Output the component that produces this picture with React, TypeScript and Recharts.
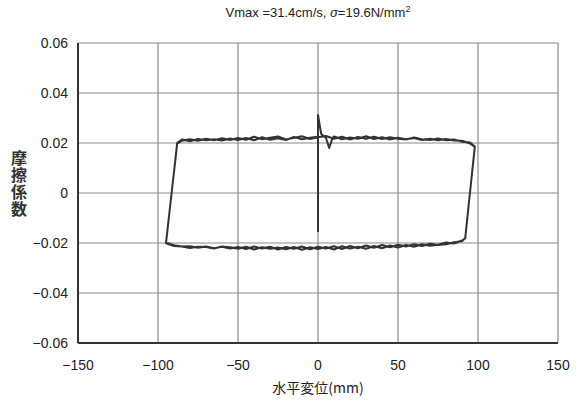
import { LineChart, Line, XAxis, YAxis, CartesianGrid } from "recharts";

// 水平変位 (mm) と 摩擦係数
const xTicks = [-150, -100, -50, 0, 50, 100, 150];
const yTicks = [-0.06, -0.04, -0.02, 0, 0.02, 0.04, 0.06];

const startX = [0, 0, 2, 5, 7, 9];
const startMu = [-0.0156, 0.0312, 0.0236, 0.022, 0.018, 0.0219];

const upperX = [
  -88, -85, -80, -75, -70, -65, -60, -55, -50, -45, -40, -35, -30, -25, -20, -15, -10, -5, 0, 5,
  10, 15, 20, 25, 30, 35, 40, 45, 50, 55, 60, 65, 70, 75, 80, 85, 90, 95, 98,
];
const upperMuA = [
  0.0201, 0.0214, 0.0207, 0.0216, 0.0211, 0.0215, 0.021, 0.0218, 0.0212, 0.022, 0.0211, 0.0223,
  0.0213, 0.0219, 0.0212, 0.0224, 0.0215, 0.0221, 0.0225, 0.0216, 0.0226, 0.0215, 0.0222, 0.0217,
  0.0227, 0.0216, 0.0223, 0.0214, 0.0221, 0.0215, 0.022, 0.0212, 0.0217, 0.0211, 0.0216, 0.021,
  0.0209, 0.0198, 0.0184,
];
const upperMuB = [
  0.0197, 0.0209, 0.0215, 0.0209, 0.0217, 0.0211, 0.0219, 0.0212, 0.022, 0.0213, 0.0225, 0.0215,
  0.0221, 0.0226, 0.0214, 0.0221, 0.0227, 0.0216, 0.0223, 0.0228, 0.0217, 0.0225, 0.0214, 0.0224,
  0.0217, 0.0225, 0.0216, 0.0223, 0.0217, 0.0214, 0.0222, 0.0215, 0.0212, 0.0218, 0.0211, 0.0214,
  0.0205, 0.0202, 0.0186,
];

const lowerX = [
  92, 90, 85, 80, 75, 70, 65, 60, 55, 50, 45, 40, 35, 30, 25, 20, 15, 10, 5, 0, -5, -10, -15, -20,
  -25, -30, -35, -40, -45, -50, -55, -60, -65, -70, -75, -80, -85, -90, -95,
];
const lowerMuA = [
  -0.018, -0.0193, -0.0197, -0.0205, -0.0208, -0.0203, -0.0212, -0.0205, -0.0214, -0.0207, -0.0217,
  -0.0208, -0.0219, -0.021, -0.0221, -0.0212, -0.0224, -0.0213, -0.0222, -0.0215, -0.0225, -0.0214,
  -0.0223, -0.0216, -0.0226, -0.0215, -0.0222, -0.0214, -0.0224, -0.0216, -0.0222, -0.0215, -0.0221,
  -0.0214, -0.0219, -0.0213, -0.0214, -0.0209, -0.0199,
];
const lowerMuB = [
  -0.0182, -0.019, -0.0202, -0.0198, -0.0207, -0.0211, -0.0205, -0.0215, -0.0208, -0.0218, -0.021,
  -0.0221, -0.0212, -0.0223, -0.0215, -0.0222, -0.0213, -0.0226, -0.0216, -0.0224, -0.0217, -0.0227,
  -0.0216, -0.0225, -0.0218, -0.0223, -0.0217, -0.0226, -0.0215, -0.0223, -0.0217, -0.0214, -0.0222,
  -0.0216, -0.0215, -0.022, -0.0214, -0.0212, -0.0201,
];

const pts = (xs: number[], ys: number[]) => xs.map((x, i) => ({ x, y: ys[i] }));

// 0から始まり2サイクル回る
const data = [
  ...pts(startX, startMu),
  ...pts(upperX, upperMuA).filter((p) => p.x > 9),
  ...pts(lowerX, lowerMuA),
  ...pts(upperX, upperMuB),
  ...pts(lowerX, lowerMuB),
  ...pts(upperX, upperMuA).filter((p) => p.x <= 0),
];

const font = "'Liberation Sans', 'Noto Sans CJK JP', sans-serif";
const fmt = (v: number) => (v === 0 ? "0" : String(v).replace("-", "\u2212"));
const fmtY = (v: number) => (v === 0 ? "0" : v.toFixed(2).replace("-", "\u2212"));

export default function App() {
  return (
    <div style={{ position: "absolute", left: 0, top: 0, width: 580, height: 401, background: "#fff", fontFamily: font }}>
      <div style={{ position: "absolute", left: 0, width: 636, top: 4, textAlign: "center", fontSize: 13, color: "#222" }}>
        Vmax =31.4cm/s, <span style={{ fontStyle: "italic" }}>σ</span>=19.6N/mm<sup style={{ fontSize: 9 }}>2</sup>
      </div>
      <div
        style={{
          position: "absolute",
          left: 10,
          top: 150,
          writingMode: "vertical-rl",
          textOrientation: "upright",
          fontFamily: "'Noto Sans CJK JP', sans-serif",
          fontWeight: 700,
          fontSize: 16,
          lineHeight: "18px",
          letterSpacing: 1,
          color: "#333",
        }}
      >
        摩擦係数
      </div>
      <div
        style={{
          position: "absolute",
          left: 0,
          width: 636,
          top: 377,
          textAlign: "center",
          fontFamily: "'Noto Sans CJK JP', sans-serif",
          fontSize: 14,
          color: "#222",
        }}
      >
        水平変位(mm)
      </div>
      <LineChart width={580} height={401} data={data} margin={{ top: 43, right: 22, bottom: 0, left: 0 }}>
        <CartesianGrid stroke="#8a8a8a" strokeWidth={1.2} />
        <XAxis
          dataKey="x"
          type="number"
          domain={[-150, 150]}
          ticks={xTicks}
          tickFormatter={fmt}
          height={58}
          tickSize={0}
          tickMargin={17}
          axisLine={{ stroke: "#333", strokeWidth: 2 }}
          tick={{ fill: "#222", fontSize: 14, fontFamily: font }}
        />
        <XAxis xAxisId="top" orientation="top" type="number" domain={[-150, 150]} height={0} tick={false} axisLine={{ stroke: "#333", strokeWidth: 2 }} />
        <YAxis
          type="number"
          domain={[-0.06, 0.06]}
          ticks={yTicks}
          tickFormatter={fmtY}
          width={78}
          tickSize={0}
          tickMargin={10}
          axisLine={{ stroke: "#333", strokeWidth: 2 }}
          tick={{ fill: "#222", fontSize: 14, fontFamily: font }}
        />
        <YAxis yAxisId="right" orientation="right" type="number" domain={[-0.06, 0.06]} width={0} tick={false} axisLine={{ stroke: "#333", strokeWidth: 2 }} />
        <Line
          dataKey="y"
          type="linear"
          stroke="#333"
          strokeWidth={2}
          strokeLinejoin="round"
          dot={false}
          isAnimationActive={false}
        />
      </LineChart>
    </div>
  );
}
